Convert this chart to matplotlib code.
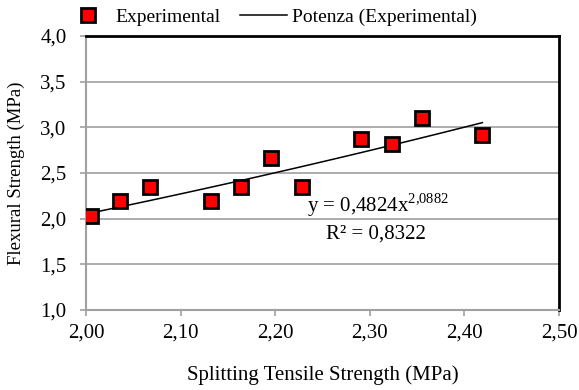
#!/usr/bin/env python3
# flexural vs splitting tensile strength

import numpy as np
import matplotlib.pyplot as plt
from matplotlib.ticker import FuncFormatter

plt.rcParams["font.family"] = ["Liberation Serif", "DejaVu Serif"]
plt.rcParams["mathtext.fontset"] = "custom"
plt.rcParams["mathtext.rm"] = "Liberation Serif"

tensile = [2.005, 2.036, 2.068, 2.132, 2.164, 2.196, 2.228, 2.291, 2.323, 2.355, 2.419]
flexural = [2.03, 2.19, 2.35, 2.19, 2.35, 2.66, 2.35, 2.87, 2.82, 3.10, 2.92]

coef_a = 0.4824
coef_b = 2.0882
r2 = 0.8322


def comma(fmt):
    return FuncFormatter(lambda v, p: fmt.format(v).replace(".", ","))


def plot(ax):
    x = np.linspace(min(tensile), max(tensile), 100)
    y = coef_a * x ** coef_b

    ax.set_xlim(2.0, 2.5)
    ax.set_ylim(1.0, 4.0)
    ax.set_xticks(np.arange(2.0, 2.51, 0.1))
    ax.set_yticks(np.arange(1.0, 4.01, 0.5))
    ax.xaxis.set_major_formatter(comma("{:.2f}"))
    ax.yaxis.set_major_formatter(comma("{:.1f}"))
    ax.yaxis.grid(True, color="#a0a0a0", lw=1.2)
    ax.set_axisbelow(True)

    ax.plot(tensile, flexural, ls="none", marker="s", ms=10.5, mfc="#ff0000",
            mec="black", mew=2, label="Experimental", zorder=3)
    ax.plot(x, y, color="black", lw=1.1, label="Potenza (Experimental)", zorder=2)

    ax.text(2.234, 2.07, "y = 0,4824x$^{\\mathrm{2{,}0882}}$", fontsize=15)
    ax.text(2.254, 1.78, "R² = 0,8322", fontsize=15)

    for s in ("top", "right"):
        ax.spines[s].set_linewidth(2)
        ax.spines[s].set_color("black")
    for s in ("left", "bottom"):
        ax.spines[s].set_linewidth(1.5)
        ax.spines[s].set_color("#a0a0a0")
    ax.tick_params(axis="both", colors="#a0a0a0", labelcolor="black",
                   labelsize=15, length=4, width=1.2)
    ax.tick_params(axis="x", pad=6)
    ax.tick_params(axis="y", pad=10)

    ax.set_xlabel("Splitting Tensile Strength (MPa)", fontsize=15, labelpad=16)
    ax.set_ylabel("Flexural Strength (MPa)", fontsize=13.5, labelpad=11)
    ax.legend(loc="lower center", bbox_to_anchor=(0.39, 1.0), ncol=2,
              frameon=False, fontsize=14, handlelength=2.4, columnspacing=1.0,
              handletextpad=0.25, borderaxespad=0.1)


def main():
    fig = plt.figure(figsize=(5.79, 3.9), dpi=100)
    ax = fig.add_axes([86 / 579, 80 / 390, 473 / 579, 274 / 390])
    plot(ax)
    fig.savefig("out.png", dpi=100)


if __name__ == "__main__":
    main()
